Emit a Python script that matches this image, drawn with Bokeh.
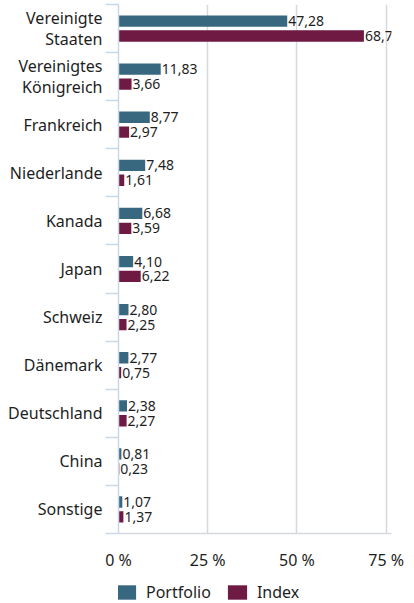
from bokeh.plotting import figure
from bokeh.layouts import column
from bokeh.models import (Range1d, LinearAxis, FixedTicker, ColumnDataSource,
                          Legend, LegendItem, Grid)
from bokeh.core.properties import value
from bokeh.embed import file_html
from bokeh.resources import INLINE

NB = "\u00a0"
categories = ["Vereinigte\n" + NB * 5 + "Staaten", "Vereinigtes\n" + NB + "Königreich",
              "Frankreich", "Niederlande", "Kanada", "Japan", "Schweiz", "Dänemark",
              "Deutschland", "China", "Sonstige"]
portfolio = [47.28, 11.83, 8.77, 7.48, 6.68, 4.10, 2.80, 2.77, 2.38, 0.81, 1.07]
index_vals = [68.77, 3.66, 2.97, 1.61, 3.59, 6.22, 2.25, 0.75, 2.27, 0.23, 1.37]
x_ticks = [0, 25, 50, 75]
x_tick_labels = ["0 %", "25 %", "50 %", "75 %"]
series_names = ["Portfolio", "Index"]

C_PORT = "#386880"
C_IDX = "#6e1a42"
GRID = "#d6dade"
AXIS_BLUE = "#c9d7ea"
TXT = "#1e1e1e"
FONT = "Noto Sans"

n = len(categories)
centers = [i + 0.5 for i in range(n)]

def fmt(v):
    return f"{v:.2f}".replace(".", ",")

src_p = ColumnDataSource(dict(y=[c - 0.155 for c in centers], x=portfolio,
                              lbl=[fmt(v) for v in portfolio]))
src_i = ColumnDataSource(dict(y=[c + 0.155 for c in centers], x=index_vals,
                              lbl=[fmt(v) for v in index_vals]))

p = figure(width=406, height=573, output_backend="svg", toolbar_location=None,
           x_range=Range1d(0, 76.5), y_range=Range1d(n, 0),
           x_axis_type=None, y_axis_type=None,
           min_border_left=118, min_border_right=15, min_border_top=4,
           min_border_bottom=36)
p.outline_line_color = None
p.background_fill_color = "white"
p.border_fill_color = "white"

r1 = p.hbar(y="y", right="x", left=0, height=0.235, source=src_p,
            fill_color=C_PORT, line_color=None)
r2 = p.hbar(y="y", right="x", left=0, height=0.235, source=src_i,
            fill_color=C_IDX, line_color=None)

for s in (src_p, src_i):
    p.text(x="x", y="y", text="lbl", source=s, x_offset=1,
           text_baseline="middle", text_align="left",
           text_font=value(FONT), text_font_size="14px",
           text_color=TXT)

# boundary ticks axis
ax_b = LinearAxis(ticker=FixedTicker(ticks=list(range(n + 1))),
                  major_label_overrides={i: "" for i in range(n + 1)},
                  major_label_text_font_size="1px", major_label_standoff=0,
                  major_tick_out=13, major_tick_in=0,
                  major_tick_line_color=AXIS_BLUE, major_tick_line_width=1.5,
                  axis_line_color=AXIS_BLUE, axis_line_width=1.5,
                  minor_tick_line_color=None)
p.add_layout(ax_b, "left")

ax_l = LinearAxis(ticker=FixedTicker(ticks=centers),
                  major_label_overrides={c: lab for c, lab in zip(centers, categories)},
                  major_label_text_font=FONT,
                  major_label_text_font_size="16px",
                  major_label_text_line_height=0.97,
                  major_label_text_color=TXT, major_label_standoff=3,
                  major_tick_out=0, major_tick_in=0,
                  major_tick_line_color=None, axis_line_color=None,
                  minor_tick_line_color=None)
p.add_layout(ax_l, "left")

ax_x = LinearAxis(ticker=FixedTicker(ticks=x_ticks),
                  major_label_overrides={t: l for t, l in zip(x_ticks, x_tick_labels)},
                  major_label_text_font=FONT,
                  major_label_text_font_size="16px",
                  major_label_text_color=TXT, major_label_standoff=15,
                  major_tick_out=0, major_tick_in=0,
                  major_tick_line_color=None, minor_tick_line_color=None,
                  axis_line_color=GRID, axis_line_width=1.5)
p.add_layout(ax_x, "below")

g = Grid(dimension=0, ticker=FixedTicker(ticks=x_ticks[1:]),
         grid_line_color=GRID, grid_line_width=1.5)
p.add_layout(g)

# legend strip (its frame is aligned with the chart frame by the column layout)
lf = figure(width=406, height=30, output_backend="svg", toolbar_location=None,
            x_range=Range1d(0, 1), y_range=Range1d(0, 1),
            x_axis_type=None, y_axis_type=None,
            min_border_left=0, min_border_right=0, min_border_top=0,
            min_border_bottom=0)
lf.outline_line_color = None
lf.xgrid.visible = False
lf.ygrid.visible = False
lf.background_fill_color = "white"
lf.border_fill_color = "white"
l1 = lf.quad(left="l", right="r", bottom="b", top="t",
             source=ColumnDataSource(dict(l=[5.0], r=[6.0], b=[5.0], t=[6.0])),
             fill_color=C_PORT, line_color=None)
l2 = lf.quad(left="l", right="r", bottom="b", top="t",
             source=ColumnDataSource(dict(l=[5.0], r=[6.0], b=[5.0], t=[6.0])),
             fill_color=C_IDX, line_color=None)

legend = Legend(items=[LegendItem(label=series_names[0], renderers=[l1]),
                       LegendItem(label=series_names[1], renderers=[l2])],
                orientation="horizontal", location=(-4, 0),
                glyph_width=24, glyph_height=18, label_text_font=FONT,
                label_text_font_size="16px", label_text_color=TXT,
                spacing=14, padding=4, margin=0, border_line_color=None,
                background_fill_alpha=0, label_standoff=8)
lf.add_layout(legend, "center")

layout = column(p, lf, spacing=0)
open("out.html", "w").write(file_html(layout, INLINE))
